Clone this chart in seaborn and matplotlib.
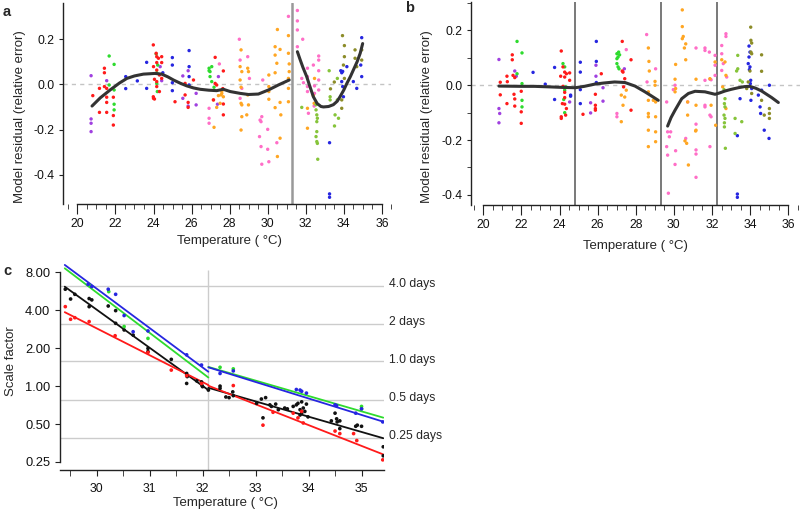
import numpy as np
import pandas as pd
import matplotlib
matplotlib.use("Agg")
import matplotlib.pyplot as plt
from matplotlib.ticker import MultipleLocator, FixedLocator, NullLocator, FormatStrFormatter
import seaborn as sns

# ---------------- Panel a: residual points (temperature, residual) ----------------
A_RED = [(20.81,-0.050),(21.16,-0.018),(21.16,-0.124),(21.42,0.071),(21.42,0.051),(21.42,-0.010),
         (21.54,-0.018),(21.54,-0.057),(21.54,-0.080),(21.54,-0.124),(21.89,-0.057),(21.89,-0.138),(21.89,-0.180),
         (23.99,0.174),(24.14,0.137),(24.17,0.122),(24.17,0.096),(24.00,0.078),(24.26,0.115),(24.43,0.122),
         (24.43,0.096),(24.17,0.063),(24.31,0.041),(24.05,0.022),(24.17,0.012),(24.43,0.026),(24.17,-0.010),
         (23.99,-0.055),(24.05,-0.065),(24.31,-0.032),(24.00,-0.062),
         (25.13,-0.077),(25.66,0.004),(25.66,-0.047),(25.82,-0.080),(25.82,-0.102),(26.10,0.019),
         (27.24,0.119),(27.24,0.004),(27.32,-0.003),(27.15,-0.069),(27.64,-0.019),(27.67,-0.135),
         (27.67,0.059),(27.67,-0.087)]
A_GREEN = [(21.67,0.125),(21.67,-0.003),(21.93,0.088),(21.93,-0.025),(21.93,-0.088),(21.93,-0.113),
           (24.14,0.134),(24.22,0.085),(24.17,0.051),(24.20,-0.032),(24.17,0.004),
           (26.92,0.071),(26.97,0.056),(27.06,0.078),(26.97,0.034),(27.06,0.012),(27.18,-0.013),(26.92,0.060)]
A_PURPLE = [(20.72,0.038),(20.72,-0.153),(20.72,-0.172),(20.72,-0.209),(21.54,0.016),(24.43,0.016),
            (24.35,0.078),(25.54,0.037),(25.54,-0.062),(25.82,0.060),(25.82,-0.096),(26.24,-0.040),
            (26.24,-0.091),(27.41,0.034),(27.36,-0.088)]
A_BLUE = [(22.54,0.034),(22.54,-0.019),(23.15,0.015),(23.64,0.097),(23.64,-0.018),(24.49,0.051),
          (24.99,0.118),(24.99,0.085),(24.99,0.007),(24.99,-0.028),(25.87,0.149),(25.87,0.078),
          (25.87,0.034),(25.87,-0.003),
          (33.84,0.060),(33.89,0.051),(33.94,0.057),(33.89,0.012),(33.94,-0.010),(33.98,-0.055),
          (33.25,-0.258),(33.25,-0.484),(33.25,-0.499),(34.50,0.012),(34.68,-0.018),(34.94,0.206),
          (34.94,0.034),(34.89,0.085),(34.16,0.078)]
A_PINK = [(26.92,-0.106),(26.92,-0.150),(26.92,-0.172),(27.46,0.090),
          (28.51,0.199),(28.55,0.107),(28.64,-0.018),(28.55,-0.062),(28.95,0.122),(29.04,0.026),
          (29.74,0.019),(29.69,-0.143),(29.60,-0.158),(29.65,-0.165),(29.57,-0.231),(29.65,-0.275),
          (29.69,-0.353),(30.00,-0.199),(30.00,-0.287),(30.06,-0.342),(30.48,-0.258),(31.09,0.300),
          (31.56,0.326),(31.56,0.280),(31.56,0.240),(31.84,0.199),(31.56,0.166),(31.79,0.026),
          (31.88,0.007),(32.09,0.071),(32.09,0.034),(32.09,-0.010),(32.09,-0.032),(32.14,-0.128),
          (32.40,0.085),(32.46,-0.007),(32.46,-0.040),(32.44,-0.096),(32.68,0.125),(32.68,0.107),
          (32.68,0.060),(32.68,0.019),(32.68,-0.025)]
A_ORANGE = [(27.18,-0.190),(27.15,-0.069),(27.41,-0.050),(27.32,-0.102),(27.50,-0.084),(27.59,-0.040),
            (27.59,-0.030),(27.55,-0.047),(27.67,-0.055),
            (28.60,0.152),(28.55,0.078),(28.64,0.056),(28.55,0.019),(28.60,-0.013),(28.60,-0.084),
            (28.64,-0.091),(28.64,-0.143),(28.60,-0.202),(28.95,0.071),(28.99,0.056),(28.95,-0.047),
            (28.99,-0.091),(28.90,-0.135),(30.06,0.041),(30.06,-0.010),(30.06,-0.032),(30.06,-0.066),
            (30.39,0.166),(30.39,0.129),(30.48,0.093),(30.51,0.242),(30.65,0.154),(30.39,0.051),
            (30.39,-0.103),(30.65,-0.080),(30.65,-0.238),(30.51,-0.319),(30.69,-0.135),(31.09,0.215),
            (31.09,0.137),(31.13,0.090),(31.13,0.056),(31.09,0.026),(31.09,-0.018),(31.09,-0.077),
            (32.09,-0.106),(32.09,-0.194),(32.44,-0.084),(32.46,0.026),(32.40,-0.050)]
A_YGREEN = [(31.79,-0.102),(32.54,-0.113),(32.58,-0.135),(32.61,-0.150),(32.58,-0.209),(32.54,-0.231),
            (32.58,-0.253),(32.61,-0.261),(32.63,-0.331),(33.23,0.060),(33.28,-0.055),(33.28,-0.069),
            (33.66,0.026),(33.66,-0.069),(33.54,-0.135),(33.51,-0.184),(33.72,-0.150),(32.58,-0.165),
            (32.54,-0.090)]
A_OLIVE = [(33.93,0.215),(34.03,0.171),(34.03,0.122),(33.98,0.085),(34.03,0.026),(33.89,-0.069),
           (33.89,-0.106),(34.59,0.152),(34.59,0.115),(34.68,0.078),(34.94,0.152),(34.94,0.107),
           (33.30,-0.020),(33.50,0.010)]

A_FIT1_T = [20.77,21.2,21.72,22.2,22.6,23.0,23.47,24.08,24.43,24.75,25.05,25.4,25.75,26.1,26.45,26.9,
            27.32,27.67,28.03,28.55,28.99,29.51,30.04,30.56,31.13]
A_FIT1_V = [-0.096,-0.060,-0.025,0.005,0.026,0.037,0.045,0.048,0.045,0.033,0.019,0.005,-0.007,-0.016,
            -0.022,-0.026,-0.028,-0.022,-0.032,-0.040,-0.045,-0.043,-0.025,-0.003,0.019]
A_FIT2_T = [31.56,31.7,31.85,32.05,32.2,32.4,32.6,32.8,32.93,33.2,33.45,33.65,33.8,34.0,34.16,34.35,
            34.5,34.7,34.86,34.99]
A_FIT2_V = [0.144,0.110,0.075,0.034,-0.005,-0.055,-0.085,-0.098,-0.100,-0.098,-0.090,-0.075,-0.055,
            -0.025,0.004,0.035,0.063,0.100,0.137,0.180]
A_BREAKS = [31.28]

# ---------------- Panel b ----------------
B_RED = [(20.89,0.011),(20.89,-0.035),(21.24,0.033),(21.26,0.013),(21.24,-0.067),(21.52,0.111),
         (21.52,0.093),(21.56,0.036),(21.65,0.028),(21.61,-0.033),(21.65,-0.050),(21.65,-0.076),
         (21.99,-0.022),(21.99,-0.097),(21.99,-0.139),
         (24.09,0.125),(24.18,0.067),(24.27,0.048),(24.27,0.030),(24.06,0.033),(24.18,-0.004),
         (24.27,-0.026),(24.36,0.042),(24.53,0.045),(24.53,0.018),(24.27,-0.045),(24.15,-0.067),
         (24.27,-0.069),(24.36,-0.085),(24.09,-0.115),(24.09,-0.121),(24.32,-0.109),
         (25.23,-0.106),(25.88,-0.073),(25.88,-0.085),(25.88,-0.091),(26.19,0.042),(25.88,-0.033),
         (27.29,0.160),(27.29,0.052),(27.33,0.048),(27.42,0.024),(27.36,-0.006),(27.75,0.093),(27.75,-0.091)]
B_GREEN = [(21.77,0.160),(21.77,0.042),(22.03,0.118),(22.03,0.006),(22.03,-0.055),(22.03,-0.079),
           (24.18,0.079),(24.27,0.067),(24.27,-0.018),(24.22,-0.052),(24.27,-0.100),(24.32,-0.006),
           (27.01,0.115),(27.07,0.103),(27.10,0.121),(27.15,0.111),(27.01,0.097),(27.01,0.079),
           (27.07,0.067),(27.12,0.060)]
B_PURPLE = [(20.82,0.094),(20.82,-0.085),(20.86,-0.103),(20.82,-0.137),(21.65,0.052),(21.73,0.033),
            (24.53,-0.061),(25.63,-0.064),(25.63,-0.101),(25.91,0.073),(25.91,0.033),(26.28,-0.009),
            (26.28,-0.058),(27.40,0.060)]
B_BLUE = [(22.61,0.047),(23.25,0.004),(23.74,0.065),(23.74,-0.052),(24.58,-0.036),(24.58,-0.040),
          (25.09,0.084),(25.09,0.048),(25.09,-0.016),(25.09,-0.067),(25.93,0.160),(25.93,0.087),(25.93,0.010),
          (33.33,-0.184),(33.33,-0.397),(33.33,-0.409),(33.94,0.143),(33.99,0.121),(33.94,0.103),
          (33.90,0.079),(33.99,0.067),(33.96,0.057),(34.03,0.018),(34.01,0.006),(34.04,-0.055),
          (34.08,-0.012),(33.47,-0.049),(34.60,-0.018),(34.52,-0.079),(34.55,-0.103),(34.74,-0.164),
          (35.01,0.000),(34.99,-0.194),(34.43,-0.036)]
B_PINK = [(27.01,-0.103),(27.01,-0.115),(27.50,0.130),
          (28.57,0.185),(28.59,0.012),(29.04,0.060),(29.62,-0.061),(29.71,-0.394),(29.62,-0.224),
          (29.67,-0.255),(29.76,-0.188),(29.83,-0.170),(29.67,-0.170),(30.09,-0.239),(30.06,-0.289),
          (30.06,0.000),(29.97,-0.016),(30.62,-0.194),(30.72,-0.061),(31.16,0.136),(31.16,-0.142),
          (31.16,-0.236),(31.16,-0.251),(31.16,-0.336),(31.63,0.136),(31.63,0.127),(31.63,0.018),
          (31.63,-0.073),(31.63,-0.079),(31.86,0.121),(31.89,0.022),(31.95,0.020),(31.89,-0.109),
          (31.95,-0.115),(31.89,-0.224),(32.16,0.109),(32.16,0.073),(32.16,0.036),
          (32.51,0.145),(32.73,0.188),(32.73,0.178),(32.51,0.115),(32.51,0.054),(32.59,0.079),(32.77,0.030)]
B_ORANGE = [(27.24,-0.133),(27.33,-0.073),(27.42,-0.043),(27.24,-0.036),(27.50,-0.018),
            (28.66,0.136),(28.69,0.087),(28.71,0.052),(28.66,-0.024),(28.66,-0.055),(28.66,-0.103),
            (28.66,-0.115),(28.66,-0.164),(28.66,-0.224),(29.01,0.014),(29.01,0.000),(29.04,-0.061),
            (29.04,-0.115),(29.04,-0.170),(29.04,-0.206),(28.92,-0.055),
            (30.09,0.076),(30.06,0.022),(30.09,-0.012),(30.06,-0.024),(30.44,0.275),(30.44,0.214),
            (30.49,0.178),(30.44,0.170),(30.62,0.151),(30.55,0.136),(30.62,0.093),(30.72,-0.061),
            (30.72,-0.109),(30.76,-0.291),(30.58,-0.203),(30.67,-0.212),(31.16,0.022),(31.16,-0.073),
            (31.16,-0.164),(31.14,-0.167),(31.89,0.024),(31.95,-0.073),(32.16,0.085),(32.19,-0.146),
            (32.51,0.093),(32.68,0.085),(32.73,0.036),(32.56,-0.006),(32.73,-0.085)]
B_YGREEN = [(32.63,-0.016),(32.68,-0.049),(32.65,-0.067),(32.68,-0.079),(32.63,-0.109),(32.68,-0.121),
            (32.65,-0.137),(32.65,-0.152),(32.70,-0.230),(33.21,-0.121),(33.21,-0.176),(33.29,0.052),
            (33.35,0.060),(33.35,0.109),(33.47,0.018),(33.59,0.012),(33.56,-0.133)]
B_OLIVE = [(34.03,0.212),(34.04,0.164),(34.08,0.154),(34.04,0.121),(34.08,0.115),(33.99,0.052),
           (33.90,0.012),(33.82,-0.012),(34.08,-0.030),(34.60,0.111),(34.60,0.051),(34.60,-0.055),
           (35.01,-0.085),(35.01,-0.103),(35.01,-0.121),(34.74,-0.109)]

B_FIT1_T = [20.82,22.0,22.7,23.5,24.2,24.83,25.3,25.84,26.3,26.89,27.43,27.96,28.48,28.8,29.18]
B_FIT1_V = [-0.003,-0.004,-0.004,-0.006,-0.008,-0.009,-0.004,0.004,0.008,0.012,0.010,-0.003,-0.024,-0.038,-0.055]
B_FIT2_T = [29.67,29.85,30.06,30.41,30.76,31.11,31.63,32.16,32.4,32.68,33.0,33.38,33.7,33.99,34.3,34.6,35.13,35.48]
B_FIT2_V = [-0.149,-0.118,-0.091,-0.049,-0.030,-0.022,-0.024,-0.033,-0.028,-0.021,-0.015,-0.009,-0.005,
            -0.004,-0.011,-0.021,-0.045,-0.063]
B_BREAKS = [24.83, 29.32, 32.28]

# ---------------- Panel c: scale factors ----------------
C_BLACK = [(29.41,5.87),(29.51,4.91),(29.59,5.35),(29.86,4.95),(29.91,4.83),(29.86,4.27),(30.22,4.32),
           (30.36,3.97),(30.36,3.15),(30.52,2.79),(30.69,2.54),(30.97,1.99),(30.97,1.88),(31.41,1.63),
           (31.70,1.26),(31.70,1.05),(31.71,1.19),(31.89,1.10),(31.98,1.08),(31.99,1.01),(32.00,0.99),
           (32.11,0.93),(32.33,1.00),(32.33,0.96),(32.44,0.82),(32.50,0.81),(32.57,0.90),(32.58,0.84),
           (33.02,0.73),(33.14,0.56),(33.11,0.79),(33.19,0.81),(33.27,0.71),(33.30,0.69),(33.38,0.72),
           (33.43,0.65),(33.55,0.67),(33.60,0.66),(33.71,0.69),(33.77,0.71),(33.80,0.73),(33.87,0.75),
           (33.90,0.67),(33.93,0.63),(33.96,0.72),(33.99,0.57),(33.84,0.65),(33.87,0.61),(33.84,0.59),
           (34.43,0.53),(34.50,0.61),(34.53,0.55),(34.54,0.52),(34.59,0.53),(34.59,0.46),(34.89,0.48),
           (34.92,0.49),(35.00,0.48),(35.41,0.33),(35.41,0.28)]
C_RED = [(29.41,4.27),(29.51,3.39),(29.59,3.49),(29.86,3.25),(30.35,2.51),(30.97,1.85),(31.41,1.34),
         (31.70,1.21),(31.98,1.05),(32.58,1.01),(33.14,0.49),(33.33,0.62),(33.71,0.61),(33.87,0.63),
         (33.80,0.56),(33.90,0.51),(34.50,0.44),(34.59,0.42),(34.85,0.42),(34.91,0.37),(35.40,0.26)]
C_BLUE = [(29.84,6.42),(29.91,6.16),(30.22,5.87),(30.36,5.35),(30.52,3.63),(30.69,2.70),(30.97,2.74),
          (31.70,1.77),(31.98,1.47),(32.33,1.26),(32.58,1.32),(33.77,0.94),(33.84,0.93),(33.87,0.91),
          (33.96,0.88),(34.50,0.71),(34.53,0.70),(34.89,0.61),(35.00,0.66),(35.40,0.52)]
C_GREEN = [(29.86,6.30),(30.23,5.62),(30.52,2.97),(30.97,2.39),(32.33,1.41),(32.58,1.37),(35.00,0.69),(35.00,0.66)]

C_FIT_T_LEFT = [29.40, 32.11]
C_FIT_T_RIGHT = [32.11, 35.41]
C_FIT_BLUE = ([9.15, 1.30], [1.41, 0.522])
C_FIT_GREEN = ([8.60, 1.17], [1.42, 0.562])
C_FIT_BLACK = ([6.15, 0.93], [0.97, 0.386])
C_FIT_RED = ([3.86, 1.02], [1.007, 0.287])
C_BREAK = 32.1
DAY_LEVELS = [6.27, 3.13, 1.57, 0.78, 0.39]
DAY_LABELS = ["4.0 days", "2 days", "1.0 days", "0.5 days", "0.25 days"]
C_YTICKS = [0.25, 0.5, 1.0, 2.0, 4.0, 8.0]

# ---------------- styling ----------------
sns.set_style("ticks")
plt.rcParams['font.family'] = ['Liberation Sans', 'DejaVu Sans']
plt.rcParams['axes.unicode_minus'] = True

PAL = {"red": "#FF1A1A", "green": "#2EDB2E", "blue": "#2626E0", "purple": "#A040E0",
       "pink": "#FF6EC7", "orange": "#FFA623", "ygreen": "#86C43A", "olive": "#8C8C28",
       "black": "#111111"}
SPINE = "#222222"
TICK_FS = 8.8
LAB_FS = 9.5


def to_frame(groups):
    rows = []
    for name, pts in groups:
        for t, v in pts:
            rows.append((t, v, name))
    return pd.DataFrame(rows, columns=["T", "v", "grp"])


fig = plt.figure(figsize=(8.0, 5.11), dpi=100)
W, H = 800.0, 511.0


def style_axes(ax):
    for s in ["top", "right"]:
        ax.spines[s].set_visible(False)
    for s in ["left", "bottom"]:
        ax.spines[s].set_color(SPINE)
        ax.spines[s].set_linewidth(1.0)
    ax.tick_params(colors=SPINE, labelcolor="#111111", width=0.8, labelsize=TICK_FS)


def residual_panel(rect, xlim, ylim, groups, fits, breaks, brk_color, brk_lw, minor_y):
    ax = fig.add_axes(rect)
    style_axes(ax)
    ax.set_xlim(*xlim)
    ax.set_ylim(*ylim)
    ax.axhline(0, color="#C4C4C4", lw=1.0, ls=(0, (3, 3)), zorder=0)
    for b in breaks:
        ax.axvline(b, color=brk_color, lw=brk_lw, zorder=1)
    df = to_frame(groups)
    sns.scatterplot(data=df, x="T", y="v", hue="grp", palette=PAL, s=6, linewidth=0,
                    legend=False, ax=ax, zorder=2)
    for ft, fv in fits:
        sns.lineplot(x=ft, y=fv, color="#333333", lw=2.2, estimator=None, sort=False, ax=ax, zorder=3)
    ax.spines["bottom"].set_bounds(20, 36)
    ax.xaxis.set_major_locator(MultipleLocator(2))
    ax.xaxis.set_minor_locator(MultipleLocator(0.5))
    ax.set_yticks([-0.4, -0.2, 0.0, 0.2])
    ax.yaxis.set_major_formatter(FormatStrFormatter("%.1f"))
    if minor_y:
        ax.yaxis.set_minor_locator(FixedLocator([-0.3, -0.1, 0.1, 0.3]))
    ax.tick_params(axis="x", which="major", length=7, pad=3)
    ax.tick_params(axis="x", which="minor", length=3.8)
    ax.tick_params(axis="y", which="both", length=3.2, pad=3)
    ax.set_xlabel("Temperature ( °C)", fontsize=LAB_FS)
    ax.set_ylabel("Model residual (relative error)", fontsize=LAB_FS)
    return ax


# Panel a
ax_a = residual_panel([63.3 / W, 1 - 204.3 / H, 328.1 / W, 201.5 / H], (19.26, 36.5), (-0.53, 0.36),
                      [("purple", A_PURPLE), ("blue", A_BLUE), ("green", A_GREEN), ("pink", A_PINK),
                       ("orange", A_ORANGE), ("ygreen", A_YGREEN), ("olive", A_OLIVE), ("red", A_RED)],
                      [(A_FIT1_T, A_FIT1_V), (A_FIT2_T, A_FIT2_V)], A_BREAKS, "#999999", 1.8, False)
ax_a.yaxis.set_label_coords(-0.114, 0.435)
ax_a.xaxis.set_label_coords(0.505, -0.152)

# Panel b
ax_b = residual_panel([471.3 / W, 1 - 205.0 / H, 328.4 / W, 202.5 / H], (19.37, 36.6), (-0.437, 0.302),
                      [("purple", B_PURPLE), ("blue", B_BLUE), ("green", B_GREEN), ("pink", B_PINK),
                       ("orange", B_ORANGE), ("ygreen", B_YGREEN), ("olive", B_OLIVE), ("red", B_RED)],
                      [(B_FIT1_T, B_FIT1_V), (B_FIT2_T, B_FIT2_V)], B_BREAKS, "#555555", 1.1, True)
ax_b.yaxis.set_label_coords(-0.1175, 0.436)
ax_b.xaxis.set_label_coords(0.501, -0.173)

# Panel c
ax_c = fig.add_axes([60 / W, 1 - 470 / H, 323.8 / W, 207.7 / H])
style_axes(ax_c)
ax_c.set_yscale("log", base=2)
ax_c.set_xlim(29.31, 35.42)
ax_c.set_ylim(0.216, 9.6)
for lvl in DAY_LEVELS:
    ax_c.axhline(lvl, color="#CCCCCC", lw=1.0, zorder=0)
for lvl, lab in zip(DAY_LEVELS, DAY_LABELS):
    ax_c.text(35.52, lvl * 1.035, lab, fontsize=TICK_FS, va="center", ha="left", clip_on=False)
ax_c.vlines(C_BREAK, 0.216, 8.4, color="#CCCCCC", lw=1.0, zorder=0)

dfc = to_frame([("black", C_BLACK), ("red", C_RED), ("green", C_GREEN), ("blue", C_BLUE)])
sns.scatterplot(data=dfc, x="T", y="v", hue="grp", palette=PAL, s=7, linewidth=0, legend=False,
                ax=ax_c, zorder=3)
for col, fit in [("black", C_FIT_BLACK), ("red", C_FIT_RED), ("green", C_FIT_GREEN), ("blue", C_FIT_BLUE)]:
    c = PAL[col]
    sns.lineplot(x=C_FIT_T_LEFT, y=fit[0], color=c, lw=1.3, estimator=None, ax=ax_c, zorder=2)
    sns.lineplot(x=C_FIT_T_RIGHT, y=fit[1], color=c, lw=1.3, estimator=None, ax=ax_c, zorder=2)

ax_c.spines["left"].set_bounds(0.25, 8.0)
ax_c.yaxis.set_major_locator(FixedLocator(C_YTICKS))
ax_c.yaxis.set_minor_locator(NullLocator())
ax_c.yaxis.set_major_formatter(FormatStrFormatter("%.2f"))
ax_c.xaxis.set_major_locator(MultipleLocator(1))
ax_c.xaxis.set_minor_locator(MultipleLocator(0.5))
ax_c.tick_params(axis="x", which="both", length=4, pad=5)
ax_c.tick_params(axis="y", which="both", length=3.5, pad=3.5, labelsize=9.3)
ax_c.set_xlabel("Temperature ( °C)", fontsize=LAB_FS)
ax_c.set_ylabel("Scale factor", fontsize=LAB_FS)
ax_c.xaxis.set_label_coords(0.512, -0.128)
ax_c.yaxis.set_label_coords(-0.134, 0.526)

# panel letters
for lab, (px, py) in [("a", (7, 12)), ("b", (410, 8)), ("c", (7, 271))]:
    fig.text(px / W, 1 - py / H, lab, fontsize=10.5, fontweight="bold", ha="center", va="center")

fig.savefig("out.png", dpi=100)
